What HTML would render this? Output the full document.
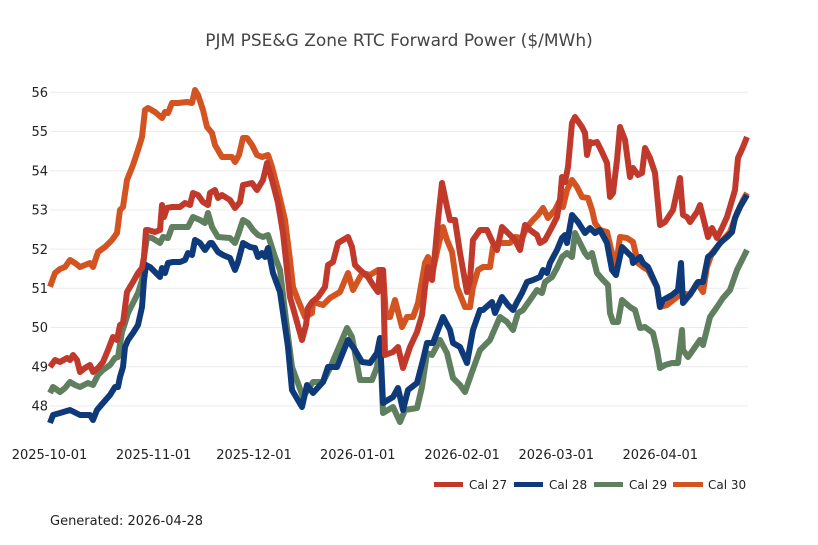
<!DOCTYPE html>
<html>
<head>
<meta charset="utf-8">
<style>
html,body{margin:0;padding:0;background:#fff;}
svg{display:block;}
text{font-family:"DejaVu Sans","Liberation Sans",sans-serif;}
</style>
</head>
<body>
<svg width="818" height="545" viewBox="0 0 818 545" xmlns="http://www.w3.org/2000/svg">
<rect width="818" height="545" fill="#fff"/>
<text x="399" y="46" text-anchor="middle" font-size="17" fill="#444">PJM PSE&amp;G Zone RTC Forward Power ($/MWh)</text>
<g stroke="#ececec" stroke-width="1">
<line x1="50" x2="748" y1="92.3" y2="92.3"/>
<line x1="50" x2="748" y1="131.5" y2="131.5"/>
<line x1="50" x2="748" y1="170.7" y2="170.7"/>
<line x1="50" x2="748" y1="209.9" y2="209.9"/>
<line x1="50" x2="748" y1="249.1" y2="249.1"/>
<line x1="50" x2="748" y1="288.3" y2="288.3"/>
<line x1="50" x2="748" y1="327.5" y2="327.5"/>
<line x1="50" x2="748" y1="366.7" y2="366.7"/>
<line x1="50" x2="748" y1="405.9" y2="405.9"/>
</g>
<g font-size="13" fill="#222" text-anchor="end">
<text x="48" y="97">56</text>
<text x="48" y="136">55</text>
<text x="48" y="175.5">54</text>
<text x="48" y="214.5">53</text>
<text x="48" y="254">52</text>
<text x="48" y="293">51</text>
<text x="48" y="332">50</text>
<text x="48" y="371.5">49</text>
<text x="48" y="410.5">48</text>
</g>
<g font-size="13" fill="#222" text-anchor="middle">
<text x="49.5" y="459">2025-10-01</text>
<text x="153.7" y="459">2025-11-01</text>
<text x="254" y="459">2025-12-01</text>
<text x="357.8" y="459">2026-01-01</text>
<text x="462.2" y="459">2026-02-01</text>
<text x="556.3" y="459">2026-03-01</text>
<text x="660.3" y="459">2026-04-01</text>
</g>
<g fill="none" stroke-width="6" stroke-linejoin="round" stroke-linecap="butt">
<polyline stroke="#d35420" points="50,286.7 55,273 60,269 65,267 70,260 75,263 80,267 85,265 90,263 93,267 98,252 105,247 112,240 117,233 120,210 123,207 127,180 133,165 138,150 142,137 145,110 148,108 155,112 162,118 165,112 168,113 172,103 178,103 187,102 192,103 195,90 198,95 203,110 207,127 212,133 215,145 222,157 232,157 235,162 239,155 243,138 247,138 252,145 257,155 262,157 268,155 272,167 278,190 285,220 290,260 293,287 298,300 305,317 312,313 313,302 323,305 330,298 340,292 348,273 353,290 360,277 363,273 370,275 378,270 383,270 386,317 390,317 395,300 402,327 407,317 413,317 418,303 425,263 428,257 433,270 438,247 443,227 447,240 452,252 457,287 465,307 470,307 473,287 478,270 483,267 490,267 493,247 500,243 510,243 515,237 522,238 527,227 533,220 538,215 543,208 548,218 555,210 560,200 563,207 567,190 572,180 577,187 582,197 588,198 592,210 595,223 600,230 607,232 612,253 615,273 620,237 627,238 633,242 638,263 643,267 648,270 657,287 660,307 667,305 677,297 682,293 690,295 697,283 703,292 707,267 712,253 717,247 723,240 730,232 737,213 743,200 747,193"/>
<polyline stroke="#5f7f5f" points="50,393 53,387 60,392 65,388 70,382 75,385 80,387 88,383 93,385 98,375 103,370 110,365 115,358 118,357 122,332 125,323 128,313 133,303 138,293 142,280 144,257 147,237 152,238 160,243 163,237 168,238 172,227 178,227 188,227 193,217 200,220 205,223 208,213 212,227 218,237 230,238 235,243 238,235 243,220 248,223 253,230 258,235 263,237 268,235 275,257 280,270 286,320 292,367 303,397 313,382 323,382 330,368 347,328 352,337 360,380 372,380 377,367 380,342 383,413 393,407 400,422 405,410 417,408 422,387 427,353 432,355 440,340 447,353 453,378 460,385 465,392 472,372 480,350 483,347 490,340 493,333 500,317 507,322 513,330 518,313 523,310 530,300 537,290 542,293 545,282 552,277 557,268 562,257 567,253 572,257 575,233 580,243 585,253 588,257 592,253 597,273 603,280 608,285 610,313 613,322 618,322 622,300 630,307 635,310 640,328 645,327 653,333 657,350 660,368 665,365 672,363 678,363 682,330 683,350 688,357 693,350 700,340 703,345 710,317 717,307 723,298 730,290 737,270 747,250"/>
<polyline stroke="#0f3a7a" points="50,423 53,415 60,413 70,410 80,415 90,415 93,420 97,410 103,403 110,395 115,387 118,387 120,377 123,367 125,347 128,340 133,333 138,325 142,307 144,280 146,265 150,267 155,272 160,277 162,268 165,273 168,263 173,262 180,262 185,260 188,253 192,255 195,240 200,243 205,250 210,243 212,243 218,252 223,255 230,258 235,270 238,262 243,243 250,247 255,248 258,257 262,253 265,257 268,248 273,273 280,292 288,347 292,390 302,407 307,385 313,393 323,382 328,367 337,367 348,340 355,350 362,362 370,363 377,353 380,338 383,403 393,397 398,388 403,410 408,390 417,383 423,360 427,343 433,343 443,317 450,330 453,343 460,347 467,363 473,330 480,310 483,310 492,302 495,313 502,297 508,305 513,310 517,302 522,293 527,282 533,280 540,277 543,270 547,273 550,263 557,250 562,238 565,235 567,243 572,215 578,222 585,233 590,228 595,233 600,230 607,243 612,270 616,275 622,247 627,252 632,257 633,263 640,257 643,263 648,267 657,287 660,307 663,300 672,295 678,290 681,263 683,303 688,297 693,290 698,282 703,282 708,257 713,253 720,243 727,237 732,232 735,218 740,207 747,195"/>
<polyline stroke="#c0392b" points="50,367 55,360 60,362 67,358 70,360 73,355 77,360 80,372 85,368 90,365 93,372 98,368 103,362 108,350 113,337 117,340 120,325 123,323 127,292 133,282 138,273 142,268 144,257 146,230 148,230 155,232 160,230 162,205 164,217 167,208 172,207 180,207 185,203 190,205 193,193 198,195 203,202 208,205 210,193 215,190 218,198 222,195 230,200 235,208 240,202 243,185 252,183 257,190 263,180 267,163 272,180 278,203 283,233 290,297 302,340 306,325 308,308 312,302 318,297 325,287 328,265 333,262 338,243 348,237 352,247 355,265 360,270 368,277 373,285 378,292 380,270 383,270 385,355 393,352 398,347 403,368 410,347 417,332 422,315 425,287 428,267 432,280 435,253 438,220 442,183 447,207 450,220 455,220 460,253 467,292 470,280 473,240 480,230 487,230 493,243 497,250 502,227 508,233 515,240 520,250 525,225 530,230 537,235 540,243 545,240 552,227 557,217 560,200 562,177 565,182 568,167 572,123 575,117 582,127 585,133 587,155 590,142 593,143 597,142 602,152 607,163 610,197 613,193 617,160 620,127 625,140 630,177 633,168 638,175 642,173 645,148 650,158 655,173 660,225 665,222 673,210 680,178 683,215 687,217 690,222 697,212 700,205 703,217 708,237 712,228 717,238 722,228 727,217 730,207 735,190 738,158 743,147 747,137"/>
</g>
<g stroke-width="5">
<line x1="434" x2="463" y1="484.5" y2="484.5" stroke="#c0392b"/>
<line x1="514" x2="543" y1="484.5" y2="484.5" stroke="#0f3a7a"/>
<line x1="594" x2="623" y1="484.5" y2="484.5" stroke="#5f7f5f"/>
<line x1="673" x2="703" y1="484.5" y2="484.5" stroke="#d35420"/>
</g>
<g font-size="12" fill="#222">
<text x="469" y="489">Cal 27</text>
<text x="549" y="489">Cal 28</text>
<text x="629" y="489">Cal 29</text>
<text x="708" y="489">Cal 30</text>
</g>
<text x="50" y="525" font-size="13" fill="#222">Generated: 2026-04-28</text>
</svg>
</body>
</html>
